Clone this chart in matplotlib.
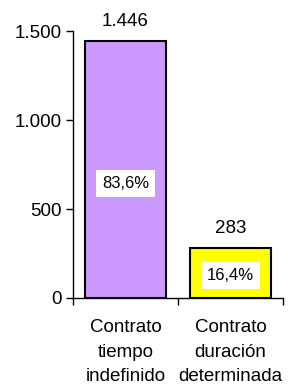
import matplotlib
matplotlib.use("Agg")
import matplotlib.pyplot as plt
from matplotlib.ticker import FuncFormatter, FixedLocator

# ── Data ─────────────────────────────────────────────────────────────────────
categories = ["Contrato\ntiempo\nindefinido", "Contrato\nduración\ndeterminada"]
values = [1446, 283]
value_labels = ["1.446", "283"]
pct_labels = ["83,6%", "16,4%"]
bar_colors = ["#CC99FF", "#FFFF00"]
y_ticks = [0, 500, 1000, 1500]

plt.rcParams["font.family"] = ["Liberation Sans", "DejaVu Sans"]

fig = plt.figure(figsize=(2.88, 3.85), dpi=100)
ax = fig.add_axes([0.2535, 0.226, 0.7295, 0.693])

x = list(range(len(categories)))
bars = ax.bar(x, values, width=0.77, color=bar_colors, edgecolor="black",
              linewidth=1.5, zorder=2)

ax.set_xlim(-0.5, len(categories) - 0.5)
ax.set_ylim(0, 1500)

# value labels above bars and percentage boxes inside
for bar, vl, pl in zip(bars, value_labels, pct_labels):
    cx = bar.get_x() + bar.get_width() / 2
    h = bar.get_height()
    ax.annotate(vl, (cx, h), xytext=(0, 14), textcoords="offset points",
                ha="center", va="center", fontsize=13.5, annotation_clip=False)
    ax.text(cx, h * 0.445, pl, ha="center", va="center", fontsize=12,
            bbox=dict(boxstyle="square,pad=0.35", facecolor="white",
                      edgecolor="none"), zorder=3)

ax.yaxis.set_major_locator(FixedLocator(y_ticks))
ax.yaxis.set_major_formatter(FuncFormatter(lambda v, _: f"{int(v):,}".replace(",", ".")))
ax.tick_params(axis="y", direction="out", length=5, width=1, labelsize=13.5, pad=3)

ax.set_xticks(x)
ax.set_xticklabels(categories, fontsize=13.5, linespacing=1.6)
ax.tick_params(axis="x", which="major", length=0, pad=15)
ax.set_xticks([i - 0.5 for i in range(len(categories) + 1)], minor=True)
ax.tick_params(axis="x", which="minor", direction="out", length=5, width=1)

for s in ["top", "right"]:
    ax.spines[s].set_visible(False)
ax.spines["left"].set_linewidth(1)
ax.spines["bottom"].set_linewidth(1)

fig.savefig("out.png", dpi=100)
